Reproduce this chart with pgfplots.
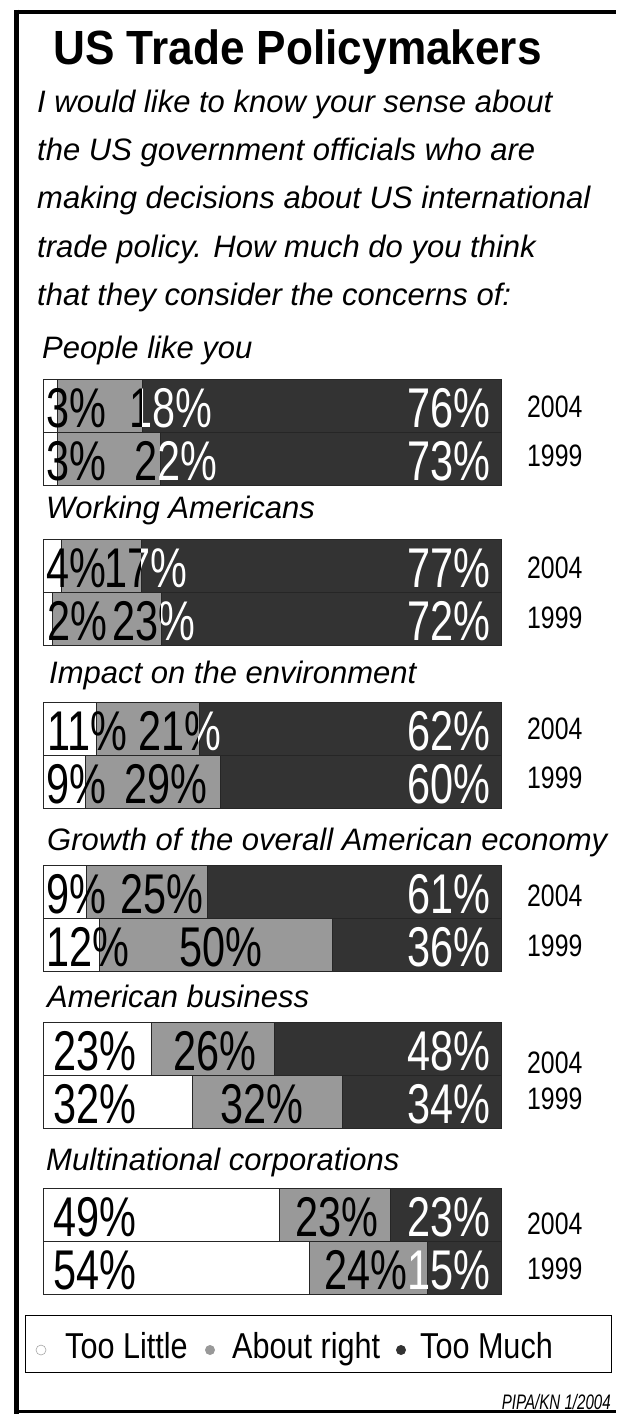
\documentclass[border=0pt]{standalone}
\usepackage{fontspec}
\usepackage{pgfplots}
\usepackage{pgfplotstable}
\pgfplotsset{compat=1.18}
\setmainfont{Liberation Sans}
\newfontfamily\titlefont{Liberation Sans}[FakeStretch=0.92]
\newfontfamily\numfont{Liberation Sans}[FakeStretch=0.74]
\newfontfamily\yrfont{Liberation Sans}[FakeStretch=0.8]
\newfontfamily\legfont{Liberation Sans}[FakeStretch=0.85]
\newfontfamily\srcfont{Liberation Sans}[FakeStretch=0.72]
\definecolor{midgray}{HTML}{999999}
\definecolor{darkbar}{HTML}{333333}

% y = bar centre in pixels, values in percent
\pgfplotstableread{
y      little right much
405.5  3      18    76
458.5  3      22    73
565.5  4      17    77
618.5  2      23    72
728.5  11     21    62
781.5  9      29    60
891.5  9      25    61
944.5  12     50    36
1048.5 23     26    48
1101.5 32     32    34
1214.5 49     23    23
1267.5 54     24    15
}\data

\tikzset{num/.style={font=\numfont\fontsize{56}{56}\selectfont, inner sep=0pt}}

% #1 y centre, #2 #3 #4 values, #5 x of first label, #6 x of middle label
\newcommand{\barlab}[6]{%
  \pgfmathsetmacro{\ds}{43+(#2+#3)/(#2+#3+#4)*458}
  \node[num, anchor=base west] at (#5,#1+22) {#2\%};
  \node[num, anchor=base west] at (#6,#1+22) {#3\%};
  \begin{scope}
    \clip (\ds,#1-27) rectangle (501,#1+27);
    \node[num, anchor=base west, text=white] at (#6,#1+22) {#3\%};
  \end{scope}
  \node[num, anchor=base east, text=white] at (491,#1+22) {#4\%};
}

\begin{document}
\begin{tikzpicture}
\useasboundingbox (0,0) rectangle (616pt,-1414pt);

\begin{axis}[
    at={(43pt,0pt)}, anchor=north west,
    scale only axis, width=458pt, height=1414pt,
    xmin=0, xmax=100, ymin=0, ymax=1414, y dir=reverse,
    xbar stacked, bar width=53pt,
    axis lines=none, xtick=\empty, ytick=\empty,
    clip=false,
    every axis plot/.append style={draw=black!85, line width=0.6pt},
]
\addplot[fill=white] table[x expr={100*\thisrow{little}/(\thisrow{little}+\thisrow{right}+\thisrow{much})}, y=y]{\data};
\addplot[fill=midgray] table[x expr={100*\thisrow{right}/(\thisrow{little}+\thisrow{right}+\thisrow{much})}, y=y]{\data};
\addplot[fill=darkbar] table[x expr={100*\thisrow{much}/(\thisrow{little}+\thisrow{right}+\thisrow{much})}, y=y]{\data};
\end{axis}

\begin{scope}[x=1pt, y=-1pt]
  % frame
  \draw[line width=5pt] (16.5,9.5) -- (16.5,1413.5);
  \draw[line width=4pt] (14,11.5) -- (616,11.5);
  \draw[line width=3pt] (14,1411.5) -- (616,1411.5);

  \node[anchor=base, inner sep=0pt, font=\titlefont\bfseries\fontsize{48}{48}\selectfont] at (297.5,64) {US Trade Policymakers};

  \begin{scope}[every node/.style={anchor=base west, inner sep=0pt, font=\itshape\fontsize{31}{31}\selectfont}]
    \node at (37,112) {I would like to know your sense about};
    \node at (37,160) {the US government officials who are};
    \node at (37,208) {making decisions about US international};
    \node at (37,257) {trade policy. How much do you think};
    \node at (37,305) {that they consider the concerns of:};

    \node at (42,358)  {People like you};
    \node at (46,518)  {Working Americans};
    \node at (49,683)  {Impact on the environment};
    \node at (47,850)  {Growth of the overall American economy};
    \node at (47,1007) {American business};
    \node at (46,1170) {Multinational corporations};
  \end{scope}

  \barlab{405.5}{3}{18}{76}{46}{129}
  \barlab{458.5}{3}{22}{73}{46}{134}
  \barlab{565.5}{4}{17}{77}{46}{104}
  \barlab{618.5}{2}{23}{72}{47}{112}
  \barlab{728.5}{11}{21}{62}{47}{138}
  \barlab{781.5}{9}{29}{60}{46}{124}
  \barlab{891.5}{9}{25}{61}{46}{120}
  \barlab{944.5}{12}{50}{36}{46}{179}
  \barlab{1048.5}{23}{26}{48}{53}{173}
  \barlab{1101.5}{32}{32}{34}{53}{220}
  \barlab{1214.5}{49}{23}{23}{53}{295}
  \barlab{1267.5}{54}{24}{15}{53}{324}

  \begin{scope}[every node/.style={anchor=base west, inner sep=0pt, font=\yrfont\fontsize{31}{31}\selectfont}]
    \node at (527,417)  {2004};
    \node at (527,466)  {1999};
    \node at (527,578)  {2004};
    \node at (527,628)  {1999};
    \node at (527,739)  {2004};
    \node at (527,788)  {1999};
    \node at (527,906)  {2004};
    \node at (527,956)  {1999};
    \node at (527,1073) {2004};
    \node at (527,1109) {1999};
    \node at (527,1234) {2004};
    \node at (527,1279) {1999};
  \end{scope}

  % legend
  \draw[line width=1pt] (25.5,1315) rectangle (611,1372);
  \fill[white] (41,1350) circle (5);
  \draw[black!35, line width=0.6pt] (41,1350) circle (5);
  \fill[midgray] (210,1350) circle (5);
  \fill[darkbar] (401,1350) circle (5);
  \begin{scope}[every node/.style={anchor=base west, inner sep=0pt, font=\legfont\fontsize{36}{36}\selectfont}]
    \node at (65,1358)  {Too Little};
    \node at (232,1358) {About right};
    \node at (420,1358) {Too Much};
  \end{scope}

  \node[anchor=base east, inner sep=0pt, font=\srcfont\itshape\fontsize{21}{21}\selectfont] at (611,1409) {PIPA/KN 1/2004};
\end{scope}
\end{tikzpicture}
\end{document}
